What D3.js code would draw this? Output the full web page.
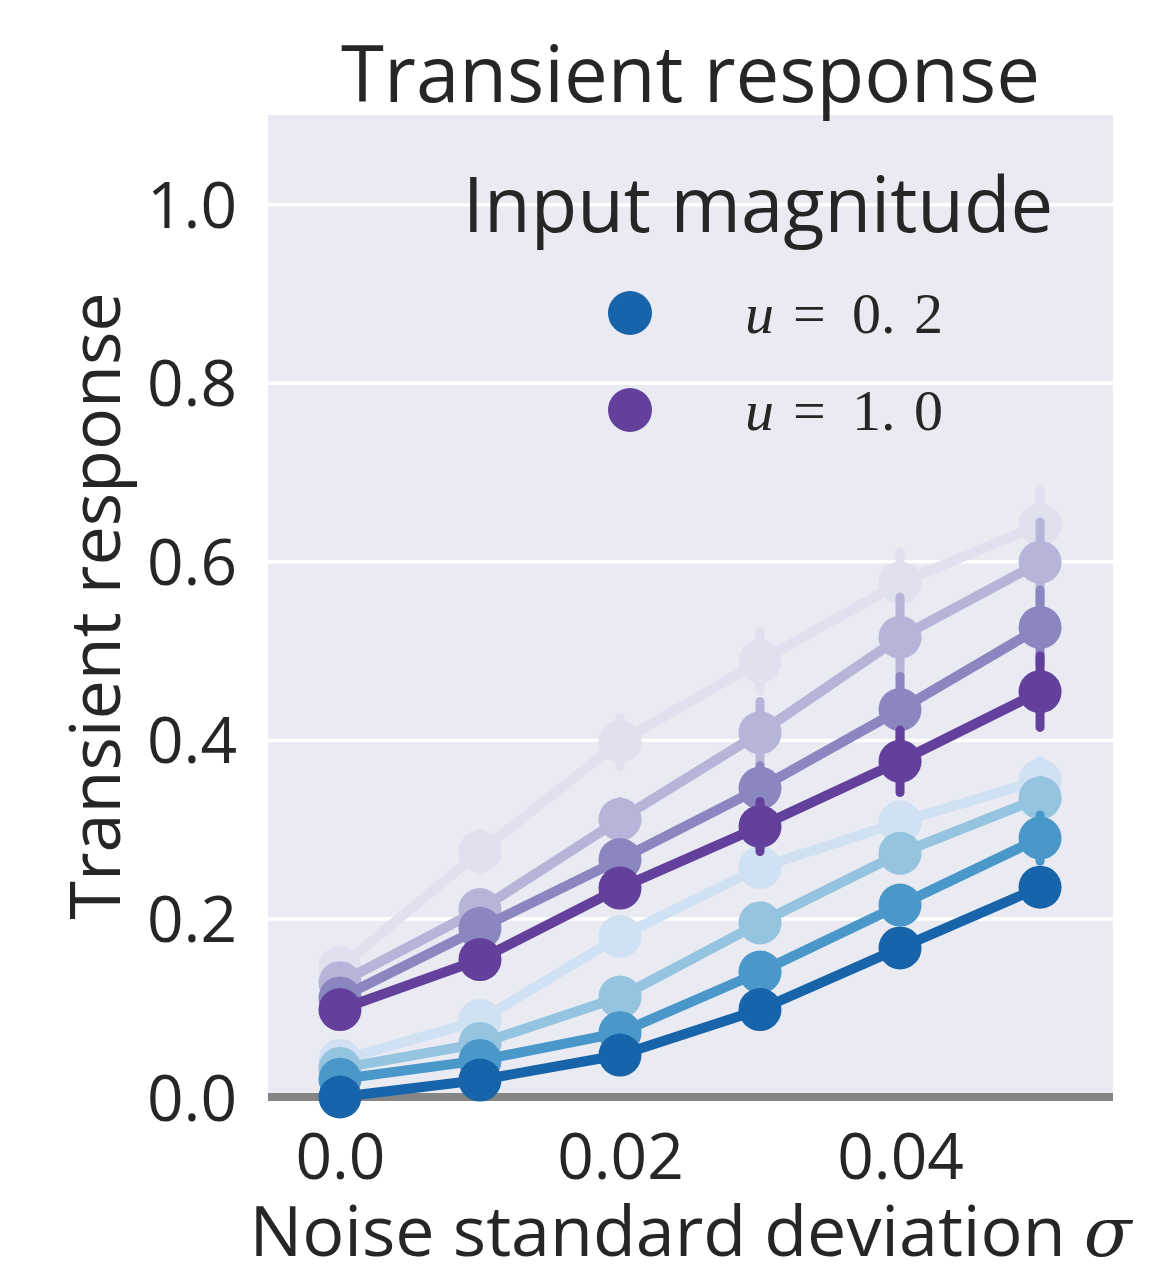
<!DOCTYPE html>
<html lang="en">
<head>
<meta charset="utf-8">
<title>Transient response</title>
<script src="https://cdn.jsdelivr.net/npm/d3@7/dist/d3.min.js"></script>
<style>
  body { margin: 0; background: #fff; }
  svg text { font-family: "Open Sans", sans-serif; fill: #262626; }
</style>
</head>
<body>
<div id="chart"></div>
<script>
// noise levels (x) and responses per input magnitude, light -> dark
var sigmas = [0.0, 0.01, 0.02, 0.03, 0.04, 0.05];
var xTicks = [0.0, 0.02, 0.04];
var xTickLabels = ["0.0", "0.02", "0.04"];
var yTicks = [0.0, 0.2, 0.4, 0.6, 0.8, 1.0];

var seriesNames = ["b4", "b3", "b2", "u=0.2", "p4", "p3", "p2", "u=1.0"];
var seriesColors = ["#cfe1f2", "#94c4df", "#4a98c9", "#1764ab",
                    "#e1e0ee", "#b5b5d9", "#8a86bf", "#63409b"];
var means = [
  [0.041, 0.086, 0.180, 0.257, 0.308, 0.355],
  [0.032, 0.060, 0.112, 0.195, 0.273, 0.335],
  [0.020, 0.041, 0.072, 0.140, 0.215, 0.290],
  [0.000, 0.019, 0.047, 0.098, 0.167, 0.235],
  [0.145, 0.275, 0.398, 0.488, 0.576, 0.641],
  [0.128, 0.210, 0.311, 0.408, 0.515, 0.599],
  [0.111, 0.189, 0.266, 0.346, 0.434, 0.526],
  [0.098, 0.154, 0.234, 0.303, 0.376, 0.454]
];
var errors = [
  [0.004, 0.006, 0.010, 0.014, 0.018, 0.022],
  [0.003, 0.005, 0.008, 0.012, 0.016, 0.020],
  [0.003, 0.004, 0.007, 0.010, 0.014, 0.026],
  [0.002, 0.003, 0.005, 0.008, 0.012, 0.016],
  [0.010, 0.020, 0.028, 0.033, 0.034, 0.040],
  [0.008, 0.015, 0.020, 0.035, 0.045, 0.045],
  [0.006, 0.012, 0.018, 0.025, 0.037, 0.042],
  [0.005, 0.010, 0.015, 0.028, 0.035, 0.040]
];
var legendLabels = ["u=0.2", "u=1.0"];
var legendColors = ["#1764ab", "#63409b"];

var W = 1160, H = 1276;
var pL = 268, pR = 1113, pT = 115, pB = 1097;

var svg = d3.select("#chart").append("svg")
    .attr("width", W)
    .attr("height", H);

var x = d3.scaleLinear().domain([-0.00514, 0.05521]).range([pL, pR]);
var y = d3.scaleLinear().domain([0, 1.1]).range([pB, pT]);

// background
svg.append("rect")
    .attr("x", pL).attr("y", pT)
    .attr("width", pR - pL).attr("height", pB - pT)
    .style("fill", "#eaeaf2");

// horizontal grid
svg.append("g")
    .attr("transform", "translate(" + pL + ",0)")
    .call(d3.axisLeft(y).tickValues(yTicks).tickSize(-(pR - pL)).tickFormat(""))
    .call(function(g) {
        g.select(".domain").remove();
        g.selectAll("line").style("stroke", "#fff").style("stroke-width", 3.5);
    });

// y tick labels
svg.append("g")
    .attr("transform", "translate(" + (pL - 31) + ",0)")
    .call(d3.axisLeft(y).tickValues(yTicks).tickSize(0).tickPadding(0).tickFormat(d3.format(".1f")))
    .call(function(g) {
        g.select(".domain").remove();
        g.selectAll("text").style("font-size", "64px").attr("dy", "0.36em")
            .style("font-family", "'Open Sans', sans-serif").style("fill", "#262626");
    });

// x tick labels
svg.append("g")
    .attr("transform", "translate(0," + pB + ")")
    .call(d3.axisBottom(x).tickValues(xTicks).tickSize(0).tickPadding(0)
        .tickFormat(function(d, i) { return xTickLabels[i]; }))
    .call(function(g) {
        g.select(".domain").remove();
        g.selectAll("text").attr("y", 82).attr("dy", 0).style("font-size", "64px")
            .style("font-family", "'Open Sans', sans-serif").style("fill", "#262626");
    });

// zero line
svg.append("line")
    .attr("x1", pL).attr("x2", pR)
    .attr("y1", y(0)).attr("y2", y(0))
    .style("stroke", "#858585").style("stroke-width", 8);

// series
var line = d3.line()
    .x(function(d, i) { return x(sigmas[i]); })
    .y(function(d) { return y(d); });

means.forEach(function(m, s) {
    var g = svg.append("g").attr("class", "series");
    var col = seriesColors[s];
    g.selectAll(".err")
        .data(m)
        .enter()
        .append("line")
        .attr("x1", function(d, i) { return x(sigmas[i]); })
        .attr("x2", function(d, i) { return x(sigmas[i]); })
        .attr("y1", function(d, i) { return y(d - errors[s][i]); })
        .attr("y2", function(d, i) { return y(d + errors[s][i]); })
        .style("stroke", col).style("stroke-width", 9).style("stroke-linecap", "round");
    g.append("path")
        .datum(m)
        .attr("d", line)
        .style("fill", "none").style("stroke", col).style("stroke-width", 10);
    g.selectAll("circle")
        .data(m)
        .enter()
        .append("circle")
        .attr("cx", function(d, i) { return x(sigmas[i]); })
        .attr("cy", function(d) { return y(d); })
        .attr("r", 21.5)
        .style("fill", col);
});

// titles
svg.append("text")
    .attr("x", (pL + pR) / 2).attr("y", 102)
    .attr("text-anchor", "middle")
    .style("font-size", "78px")
    .text("Transient response");

svg.append("text")
    .attr("transform", "translate(120," + ((pT + pB) / 2) + ") rotate(-90)")
    .attr("text-anchor", "middle")
    .style("font-size", "70px")
    .text("Transient response");

var xl = svg.append("text")
    .attr("x", (pL + pR) / 2).attr("y", 1256)
    .attr("text-anchor", "middle")
    .style("font-size", "70px");
xl.append("tspan").text("Noise standard deviation ");
xl.append("tspan").style("font-family", "'DejaVu Serif', serif").style("font-style", "italic").text("σ");

// legend
svg.append("text")
    .attr("x", 758).attr("y", 232)
    .attr("text-anchor", "middle")
    .style("font-size", "76px")
    .text("Input magnitude");

var leg = svg.selectAll(".leyenda")
    .data(legendLabels)
    .enter()
    .append("g")
    .attr("class", "leyenda")
    .attr("transform", function(d, i) { return "translate(0," + (313 + i * 97) + ")"; });

leg.append("circle")
    .attr("cx", 630).attr("cy", 0).attr("r", 22)
    .style("fill", function(d, i) { return legendColors[i]; });

// math-style label: u = a. b with wide spacing
var lt = leg.append("text")
    .attr("y", 20)
    .style("font-family", "'Liberation Serif', 'DejaVu Serif', serif")
    .style("font-size", "58px");
lt.append("tspan").attr("x", 745).style("font-style", "italic").text("u");
lt.append("tspan").attr("x", 793).text("=");
lt.append("tspan").attr("x", 852).text(function(d) { return d.split("=")[1].split(".")[0] + "."; });
lt.append("tspan").attr("x", 914).text(function(d) { return d.split(".")[1]; });
</script>
</body>
</html>
